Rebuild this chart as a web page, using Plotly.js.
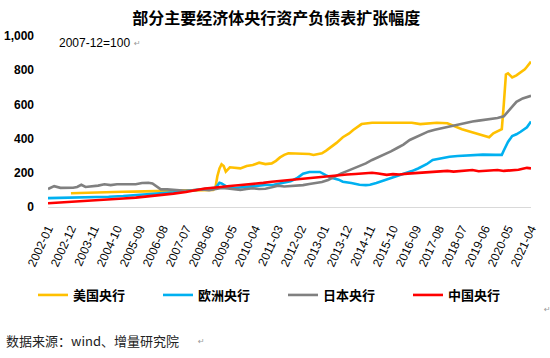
<!DOCTYPE html>
<html>
<head>
<meta charset="utf-8">
<script src="https://cdn.plot.ly/plotly-3.0.1.min.js"></script>
<style>html,body{margin:0;padding:0;background:#fff;}#chart{width:550px;height:358px;}</style>
</head>
<body>
<div id="chart"></div>
<script>
// ---- data (index, 2007-12 = 100) ----
var seriesNames = ['美国央行', '欧洲央行', '日本央行', '中国央行'];

var usDates = ['2002-12','2003-04','2003-09','2004-01','2004-06','2005-01','2005-06','2006-01','2006-06','2007-01','2007-06','2007-12','2008-03','2008-06','2008-08','2008-09','2008-10','2008-11','2008-12','2009-01','2009-02','2009-04','2009-06','2009-09','2009-12','2010-03','2010-06','2010-09','2010-12','2011-02','2011-04','2011-06','2011-08','2011-12','2012-03','2012-06','2012-08','2012-10','2012-12','2013-02','2013-04','2013-07','2013-10','2014-01','2014-03','2014-05','2014-07','2014-10','2014-12','2015-06','2016-01','2016-07','2016-11','2017-03','2017-07','2017-12','2018-04','2018-07','2018-11','2019-02','2019-05','2019-08','2019-10','2019-12','2020-02','2020-03','2020-04','2020-05','2020-07','2020-09','2020-11','2021-01','2021-02','2021-04'];
var usValues = [80,82,84,86,87,89,90,92,93,95,97,100,102,100,100,109,180,226,250,240,207,232,228,226,240,246,259,251,255,270,290,305,314,312,312,310,304,308,314,330,347,375,408,430,450,465,485,490,493,493,493,493,485,488,493,490,470,455,440,428,418,408,431,445,455,600,775,782,758,770,785,805,820,850];

var euDates = ['2002-01','2002-06','2003-01','2003-06','2004-01','2004-06','2005-01','2005-06','2006-01','2006-06','2007-01','2007-06','2007-12','2008-03','2008-06','2008-09','2008-10','2008-11','2008-12','2009-02','2009-05','2009-08','2009-11','2010-01','2010-05','2010-09','2011-01','2011-05','2011-09','2011-12','2012-03','2012-06','2012-09','2012-11','2013-02','2013-05','2013-08','2013-10','2014-02','2014-06','2014-09','2014-11','2015-02','2015-04','2015-08','2015-12','2016-04','2016-07','2016-10','2017-02','2017-05','2017-09','2018-01','2018-05','2018-11','2019-05','2019-11','2020-02','2020-03','2020-05','2020-07','2020-09','2020-11','2021-02','2021-04'];
var euValues = [52,53,55,56,58,60,64,68,74,80,86,92,100,104,105,112,125,142,138,122,109,115,117,119,125,129,130,139,150,168,195,205,203,205,185,170,160,148,140,130,128,130,140,148,165,177,195,210,225,250,275,285,294,298,304,306,305,305,330,380,415,425,440,466,500];

var jpDates = ['2002-01','2002-02','2002-04','2002-07','2002-10','2003-01','2003-03','2003-05','2003-07','2003-10','2004-01','2004-04','2004-07','2004-10','2005-01','2005-04','2005-07','2005-10','2006-01','2006-03','2006-05','2006-07','2006-10','2007-01','2007-04','2007-07','2007-10','2007-12','2008-03','2008-06','2008-09','2008-12','2009-03','2009-06','2009-09','2009-12','2010-03','2010-06','2010-09','2010-12','2011-03','2011-06','2011-09','2011-12','2012-03','2012-06','2012-09','2012-12','2013-03','2013-06','2013-09','2013-12','2014-03','2014-06','2014-09','2014-12','2015-03','2015-06','2015-09','2015-12','2016-03','2016-06','2016-09','2016-12','2017-03','2017-06','2017-09','2017-12','2018-03','2018-06','2018-09','2018-12','2019-03','2019-06','2019-09','2019-12','2020-03','2020-06','2020-09','2020-12','2021-03','2021-04'];
var jpValues = [105,112,122,112,112,113,117,130,117,120,125,133,128,133,134,136,133,140,142,138,118,103,103,100,98,95,97,100,102,98,103,112,108,103,100,105,110,105,107,115,125,120,122,124,128,135,140,146,158,178,195,210,225,240,255,275,290,310,325,345,365,392,408,425,442,452,460,470,478,485,490,500,505,510,515,520,530,575,615,635,645,650];

var cnDates = ['2002-01','2002-07','2003-01','2003-07','2004-01','2004-07','2005-01','2005-07','2006-01','2006-07','2007-01','2007-07','2007-12','2008-04','2008-08','2008-12','2009-04','2009-08','2009-12','2010-04','2010-08','2010-12','2011-04','2011-08','2011-12','2012-04','2012-08','2012-12','2013-04','2013-08','2013-12','2014-04','2014-08','2014-12','2015-03','2015-07','2015-10','2016-01','2016-05','2016-09','2016-12','2017-04','2017-08','2017-12','2018-03','2018-07','2018-12','2019-03','2019-07','2019-12','2020-03','2020-07','2020-10','2020-12','2021-02','2021-04'];
var cnValues = [22,26,30,35,40,44,50,55,62,70,78,88,100,108,113,120,123,127,131,136,141,148,153,157,163,168,172,177,181,185,190,193,197,200,196,188,192,190,195,198,204,203,207,211,207,210,216,209,213,216,211,214,218,224,229,226];

var xTickLabels = ['2002-01','2002-12','2003-11','2004-10','2005-09','2006-08','2007-07','2008-06','2009-05','2010-04','2011-03','2012-02','2013-01','2013-12','2014-11','2015-10','2016-09','2017-08','2018-07','2019-06','2020-05','2021-04'];
var yTickVals = [0, 200, 400, 600, 800, 1000];

var colors = ['#FFC000', '#00B0F0', '#808080', '#FF0000'];

function mk(name, x, y, color) {
  return {
    type: 'scatter', mode: 'lines', name: name, x: x, y: y,
    line: {color: color, width: 2.6}, hoverinfo: 'x+y'
  };
}

var data = [
  mk(seriesNames[0], usDates, usValues, colors[0]),
  mk(seriesNames[1], euDates, euValues, colors[1]),
  mk(seriesNames[2], jpDates, jpValues, colors[2]),
  mk(seriesNames[3], cnDates, cnValues, colors[3])
];

var cjk = '"Noto Sans CJK SC", "Noto Sans", sans-serif';

var layout = {
  width: 550, height: 358,
  margin: {l: 48, r: 19, t: 36, b: 151, autoexpand: false},
  paper_bgcolor: '#fff', plot_bgcolor: '#fff',
  title: {
    text: '<b>部分主要经济体央行资产负债表扩张幅度</b>',
    font: {family: cjk, size: 16, color: '#000'},
    x: 260 / 550, xanchor: 'center', xref: 'paper',
    y: 1 - 18 / 358, yanchor: 'middle', yref: 'container'
  },
  xaxis: {
    type: 'date',
    range: ['2002-01-01', '2021-04-01'],
    tickvals: xTickLabels, ticktext: xTickLabels,
    tickangle: -65,
    tickfont: {family: 'Liberation Sans, Arial, sans-serif', size: 12, color: '#000'},
    showgrid: false, zeroline: false,
    showline: true, linecolor: '#d9d9d9', linewidth: 1,
    ticks: '', ticklabelstandoff: 9
  },
  yaxis: {
    range: [0, 1000],
    tickvals: yTickVals, tickformat: ',d',
    tickfont: {family: 'Liberation Sans, Arial, sans-serif', size: 12, color: '#000', weight: 'bold'},
    showgrid: false, zeroline: false, showline: false,
    ticks: '', ticklabelstandoff: 13
  },
  showlegend: true,
  legend: {
    orientation: 'h',
    x: (33 - 48) / 483, xanchor: 'left',
    y: (207 - 295) / 171, yanchor: 'middle',
    font: {family: cjk, size: 13, color: '#000', weight: 'bold'},
    entrywidth: 80, entrywidthmode: 'pixels',
    traceorder: 'normal', bgcolor: 'rgba(0,0,0,0)'
  },
  annotations: [
    {text: '2007-12=100', xref: 'paper', yref: 'paper', x: 9 / 483, y: 1 - 7 / 171,
     xanchor: 'left', yanchor: 'middle', showarrow: false,
     font: {family: 'Liberation Sans, Arial, sans-serif', size: 12, color: '#000'}},
    {text: '↵', xref: 'paper', yref: 'paper', x: 84 / 483, y: 1 - 7 / 171,
     xanchor: 'left', yanchor: 'middle', showarrow: false,
     font: {family: 'DejaVu Sans, sans-serif', size: 8, color: '#999'}},
    {text: '数据来源：wind、增量研究院', xref: 'paper', yref: 'paper', x: -44 / 483, y: (207 - 340) / 171,
     xanchor: 'left', yanchor: 'middle', showarrow: false,
     font: {family: cjk, size: 13, color: '#222'}},
    {text: '↵', xref: 'paper', yref: 'paper', x: 148 / 483, y: (207 - 341) / 171,
     xanchor: 'left', yanchor: 'middle', showarrow: false,
     font: {family: 'DejaVu Sans, sans-serif', size: 8, color: '#999'}},
    {text: '↵', xref: 'paper', yref: 'paper', x: 494 / 483, y: (207 - 309) / 171,
     xanchor: 'left', yanchor: 'middle', showarrow: false,
     font: {family: 'DejaVu Sans, sans-serif', size: 8, color: '#999'}}
  ]
};

Plotly.newPlot('chart', data, layout, {displayModeBar: false, staticPlot: true});
</script>
</body>
</html>
